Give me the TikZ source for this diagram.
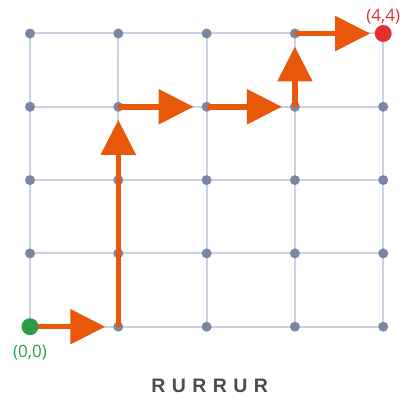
\documentclass[tikz,border=0pt]{standalone}
\usepackage{fontspec}
\setmainfont{Open Sans}
\newfontfamily\wordfont[LetterSpace=33]{Liberation Sans}
\usetikzlibrary{positioning, arrows.meta, backgrounds}
\definecolor{gridLine}{HTML}{CBD3E3}
\definecolor{gridDot}{HTML}{7B86A4}
\definecolor{pathOrange}{HTML}{E8580A}
\definecolor{startGreen}{HTML}{2E9C45}
\definecolor{endRed}{HTML}{E0302F}
\definecolor{wordGrey}{HTML}{454D55}

\begin{document}
\begin{tikzpicture}[
    x=88.3pt, y=73.3pt,
    dot/.style={circle, fill=gridDot, inner sep=0pt, minimum size=10pt},
    endpoint/.style={circle, inner sep=0pt, minimum size=17pt},
    grid line/.style={draw=gridLine, line width=2pt},
    move/.style={draw=pathOrange, line width=5.5pt, -{Triangle[length=35pt, width=34pt]}, shorten >=13pt},
    coord/.style={font=\fontsize{17}{19}\selectfont, inner sep=1pt}
]
    \useasboundingbox (-30pt,-72.3pt) rectangle (371pt,326.7pt);

    % Lattice points
    \foreach \i in {0,...,4}
        \foreach \j in {0,...,4}
            \node[dot] (p-\i-\j) at (\i,\j) {};

    % Grid lines behind the points
    \begin{scope}[on background layer]
        \foreach \k in {0,...,4} {
            \draw[grid line] (p-0-\k.center) -- (p-4-\k.center);
            \draw[grid line] (p-\k-0.center) -- (p-\k-4.center);
        }
    \end{scope}

    % The walk
    \draw[move] (p-0-0.center) -- (p-1-0.center);
    \draw[move] (p-1-0.center) -- (p-1-3.center);
    \draw[move] (p-1-3.center) -- (p-2-3.center);
    \draw[move] (p-2-3.center) -- (p-3-3.center);
    \draw[move] (p-3-3.center) -- (p-3-4.center);
    \draw[move] (p-3-4.center) -- (p-4-4.center);

    % Start and end
    \node[endpoint, fill=startGreen] (start) at (p-0-0) {};
    \node[endpoint, fill=endRed] (goal) at (p-4-4) {};
    \node[coord, text=startGreen, below=9pt of start] (startLabel) {(0,0)};
    \node[coord, text=endRed, above=-0.5pt of goal] (goalLabel) {(4,4)};

    \node[text=wordGrey, font=\wordfont\bfseries\fontsize{19.5}{22}\selectfont] (word)
        at ([xshift=3pt, yshift=-59pt]p-2-0.center) {RURRUR};
\end{tikzpicture}
\end{document}
